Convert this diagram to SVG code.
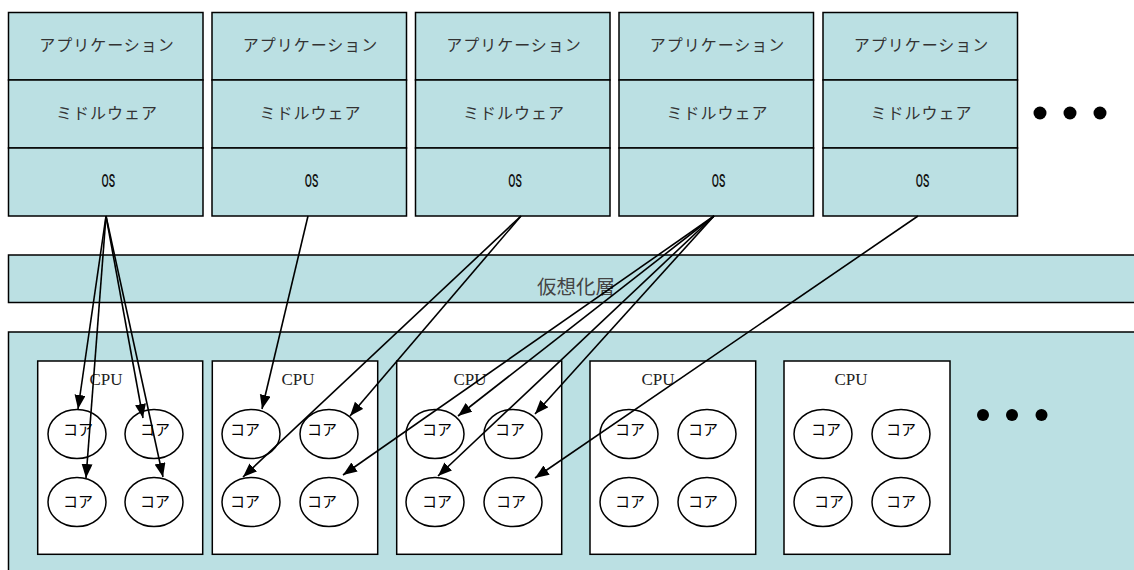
<svg xmlns="http://www.w3.org/2000/svg" width="1134" height="570" viewBox="0 0 1134 570">
<style>
.fill{fill:#BBE0E3;stroke:#000;stroke-width:1.5}
.cpu{fill:#fff;stroke:#000;stroke-width:1.5}
.core{fill:#fff;stroke:#000;stroke-width:1.5}
.jp{font-family:"Noto Sans CJK JP","Noto Sans",sans-serif;font-size:16px;fill:#333;text-anchor:middle;letter-spacing:1px}
.os{font-family:"Roboto","DejaVu Sans",sans-serif;font-size:19px;font-weight:500;fill:#111;text-anchor:middle}
.cpuT{font-family:"Liberation Serif",serif;font-size:17px;fill:#222;text-anchor:middle}
.coreT{font-family:"Noto Sans CJK JP",sans-serif;font-size:15px;fill:#000;text-anchor:middle}
.vt{font-family:"Noto Sans CJK JP",sans-serif;font-size:19.5px;fill:#444;text-anchor:middle}
.conn line{stroke:#000;stroke-width:1.6;marker-end:url(#ah)}
</style>
<defs>
<marker id="ah" markerUnits="userSpaceOnUse" markerWidth="15" markerHeight="12" refX="14" refY="5.5" orient="auto">
<path d="M0,0 L14,5.5 L0,11 z" fill="#000"/>
</marker>
</defs>
<rect width="1134" height="570" fill="#fff"/>

<g id="vm1">
<rect class="fill" x="8.5" y="12.5" width="194.5" height="67.5"/>
<rect class="fill" x="8.5" y="80" width="194.5" height="68"/>
<rect class="fill" x="8.5" y="148" width="194.5" height="68"/>
<text class="jp" x="107" y="51">アプリケーション</text>
<text class="jp" x="107" y="119">ミドルウェア</text>
<text class="os" transform="translate(108.3,187) scale(0.55,1)">OS</text>
</g>
<g id="vm2">
<rect class="fill" x="212" y="12.5" width="194.5" height="67.5"/>
<rect class="fill" x="212" y="80" width="194.5" height="68"/>
<rect class="fill" x="212" y="148" width="194.5" height="68"/>
<text class="jp" x="310.5" y="51">アプリケーション</text>
<text class="jp" x="310.5" y="119">ミドルウェア</text>
<text class="os" transform="translate(311.5,187) scale(0.55,1)">OS</text>
</g>
<g id="vm3">
<rect class="fill" x="415.5" y="12.5" width="194.5" height="67.5"/>
<rect class="fill" x="415.5" y="80" width="194.5" height="68"/>
<rect class="fill" x="415.5" y="148" width="194.5" height="68"/>
<text class="jp" x="514" y="51">アプリケーション</text>
<text class="jp" x="514" y="119">ミドルウェア</text>
<text class="os" transform="translate(515,187) scale(0.55,1)">OS</text>
</g>
<g id="vm4">
<rect class="fill" x="619" y="12.5" width="194.5" height="67.5"/>
<rect class="fill" x="619" y="80" width="194.5" height="68"/>
<rect class="fill" x="619" y="148" width="194.5" height="68"/>
<text class="jp" x="717.5" y="51">アプリケーション</text>
<text class="jp" x="717.5" y="119">ミドルウェア</text>
<text class="os" transform="translate(718.5,187) scale(0.55,1)">OS</text>
</g>
<g id="vm5">
<rect class="fill" x="823" y="12.5" width="194.5" height="67.5"/>
<rect class="fill" x="823" y="80" width="194.5" height="68"/>
<rect class="fill" x="823" y="148" width="194.5" height="68"/>
<text class="jp" x="921.5" y="51">アプリケーション</text>
<text class="jp" x="921.5" y="119">ミドルウェア</text>
<text class="os" transform="translate(922.5,187) scale(0.55,1)">OS</text>
</g>
<g id="dots-top" fill="#000">
<circle cx="1040" cy="113" r="6.5"/>
<circle cx="1070" cy="113" r="6.5"/>
<circle cx="1100" cy="113" r="6.5"/>
</g>

<g id="virt">
<rect class="fill" x="8.5" y="255" width="1140" height="47.5"/>
<text class="vt" x="576" y="294">仮想化層</text>
</g>

<g id="hw">
<rect class="fill" x="8.5" y="332" width="1140" height="250"/>
</g>

<g id="cpu1">
<rect class="cpu" x="37.7" y="361" width="165" height="193.3"/>
<text class="cpuT" x="106" y="385">CPU</text>
<ellipse class="core" cx="77" cy="434" rx="29" ry="24.5"/>
<ellipse class="core" cx="154" cy="434" rx="29" ry="24.5"/>
<ellipse class="core" cx="77" cy="502" rx="29" ry="24.5"/>
<ellipse class="core" cx="154" cy="502" rx="29" ry="24.5"/>
<text class="coreT" x="78" y="435">コア</text>
<text class="coreT" x="155" y="435">コア</text>
<text class="coreT" x="78" y="507">コア</text>
<text class="coreT" x="155" y="507">コア</text>
</g>
<g id="cpu2">
<rect class="cpu" x="212.3" y="361" width="165.4" height="193.3"/>
<text class="cpuT" x="298" y="385">CPU</text>
<ellipse class="core" cx="251" cy="434" rx="29" ry="24.5"/>
<ellipse class="core" cx="329" cy="434" rx="29" ry="24.5"/>
<ellipse class="core" cx="251" cy="502" rx="29" ry="24.5"/>
<ellipse class="core" cx="329" cy="502" rx="29" ry="24.5"/>
<text class="coreT" x="245" y="435">コア</text>
<text class="coreT" x="322" y="435">コア</text>
<text class="coreT" x="245" y="507">コア</text>
<text class="coreT" x="322" y="507">コア</text>
</g>
<g id="cpu3">
<rect class="cpu" x="396.7" y="361" width="165" height="193.3"/>
<text class="cpuT" x="470" y="385">CPU</text>
<ellipse class="core" cx="435" cy="434" rx="29" ry="24.5"/>
<ellipse class="core" cx="513" cy="434" rx="29" ry="24.5"/>
<ellipse class="core" cx="435" cy="502" rx="29" ry="24.5"/>
<ellipse class="core" cx="513" cy="502" rx="29" ry="24.5"/>
<text class="coreT" x="437" y="435">コア</text>
<text class="coreT" x="510" y="435">コア</text>
<text class="coreT" x="437" y="507">コア</text>
<text class="coreT" x="511" y="507">コア</text>
</g>
<g id="cpu4">
<rect class="cpu" x="590" y="361" width="165.7" height="193.3"/>
<text class="cpuT" x="658" y="385">CPU</text>
<ellipse class="core" cx="629" cy="434" rx="29" ry="24.5"/>
<ellipse class="core" cx="707" cy="434" rx="29" ry="24.5"/>
<ellipse class="core" cx="629" cy="502" rx="29" ry="24.5"/>
<ellipse class="core" cx="707" cy="502" rx="29" ry="24.5"/>
<text class="coreT" x="630" y="435">コア</text>
<text class="coreT" x="703" y="435">コア</text>
<text class="coreT" x="630" y="507">コア</text>
<text class="coreT" x="703" y="507">コア</text>
</g>
<g id="cpu5">
<rect class="cpu" x="784" y="361" width="166" height="193.3"/>
<text class="cpuT" x="851" y="385">CPU</text>
<ellipse class="core" cx="823" cy="434" rx="29" ry="24.5"/>
<ellipse class="core" cx="901" cy="434" rx="29" ry="24.5"/>
<ellipse class="core" cx="823" cy="502" rx="29" ry="24.5"/>
<ellipse class="core" cx="901" cy="502" rx="29" ry="24.5"/>
<text class="coreT" x="826" y="435">コア</text>
<text class="coreT" x="901" y="435">コア</text>
<text class="coreT" x="829" y="507">コア</text>
<text class="coreT" x="901" y="507">コア</text>
</g>
<g id="dots-bottom" fill="#000">
<circle cx="983" cy="415" r="6"/>
<circle cx="1012" cy="415" r="6"/>
<circle cx="1041.5" cy="415" r="6"/>
</g>

<g id="connectors" class="conn">
<line x1="106" y1="216" x2="78" y2="409"/>
<line x1="106" y1="216" x2="86" y2="478"/>
<line x1="106" y1="216" x2="143" y2="418"/>
<line x1="106" y1="216" x2="163" y2="477"/>
<line x1="308" y1="216" x2="262" y2="409"/>
<line x1="521" y1="216" x2="350" y2="416"/>
<line x1="521" y1="216" x2="243" y2="477"/>
<line x1="714" y1="216" x2="343" y2="475"/>
<line x1="714" y1="216" x2="458" y2="416"/>
<line x1="714" y1="216" x2="535" y2="414"/>
<line x1="714" y1="216" x2="438" y2="476"/>
<line x1="918" y1="216" x2="535" y2="478"/>
</g>
</svg>
